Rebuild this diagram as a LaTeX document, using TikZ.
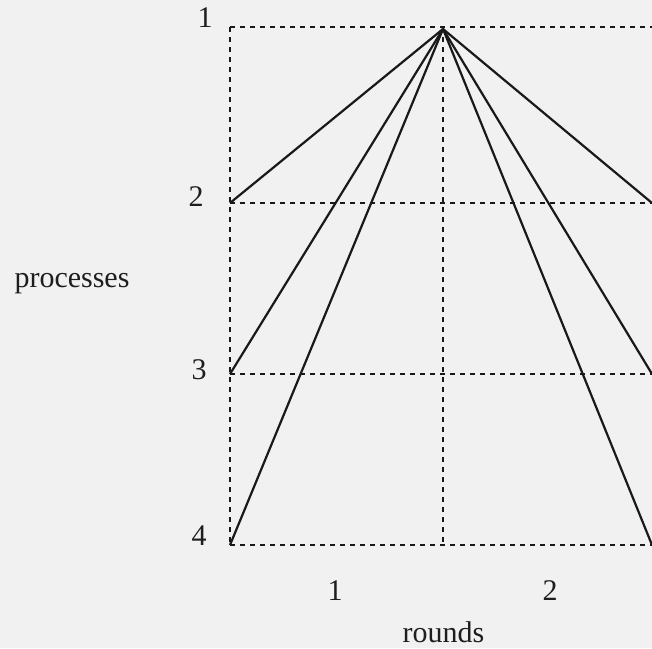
\documentclass[tikz,border=0pt]{standalone}
\usepackage{fontspec}
\setmainfont{Liberation Serif}
\definecolor{bgc}{RGB}{241,241,241}
\definecolor{txt}{RGB}{30,30,30}
\begin{document}
\begin{tikzpicture}[x=1pt,y=-1pt,
  grid/.style={line width=2.6pt, dash pattern=on 5pt off 5pt, black!90},
  msg/.style={line width=2.2pt, black!90},
  lbl/.style={anchor=base, inner sep=0pt, text=txt, font=\fontsize{30}{36}\selectfont}]
\fill[bgc] (0,0) rectangle (652,648);
\useasboundingbox (0,0) rectangle (652,648);
% grid points
\coordinate (a1) at (230,27);  \coordinate (b1) at (443,27);  \coordinate (c1) at (652,27);
\coordinate (a2) at (230,203); \coordinate (b2) at (443,203); \coordinate (c2) at (652,203);
\coordinate (a3) at (230,374); \coordinate (b3) at (443,374); \coordinate (c3) at (652,374);
\coordinate (a4) at (230,545); \coordinate (b4) at (443,545); \coordinate (c4) at (652,545);
% dashed grid
\draw[grid] (a1) -- (c1);
\draw[grid] (a2) -- (c2);
\draw[grid] (a3) -- (c3);
\draw[grid] (a4) -- (c4);
\draw[grid] (a1) -- (a4);
\draw[grid] (b1) -- (b4);
% message lines
\coordinate (apex) at (443,29);
\foreach \t in {a2,a3,a4,c2,c3,c4} \draw[msg] (apex) -- (\t);
% labels
\node[lbl] (p1) at (205,27) {1};
\node[lbl] (p2) at (196,206) {2};
\node[lbl] (p3) at (199,379) {3};
\node[lbl] (p4) at (199,545) {4};
\node[lbl] (proc) at (72,287) {processes};
\node[lbl] (r1) at (335,600) {1};
\node[lbl] (r2) at (550,600) {2};
\node[lbl] (rounds) at (443.5,642) {rounds};
\end{tikzpicture}
\end{document}
